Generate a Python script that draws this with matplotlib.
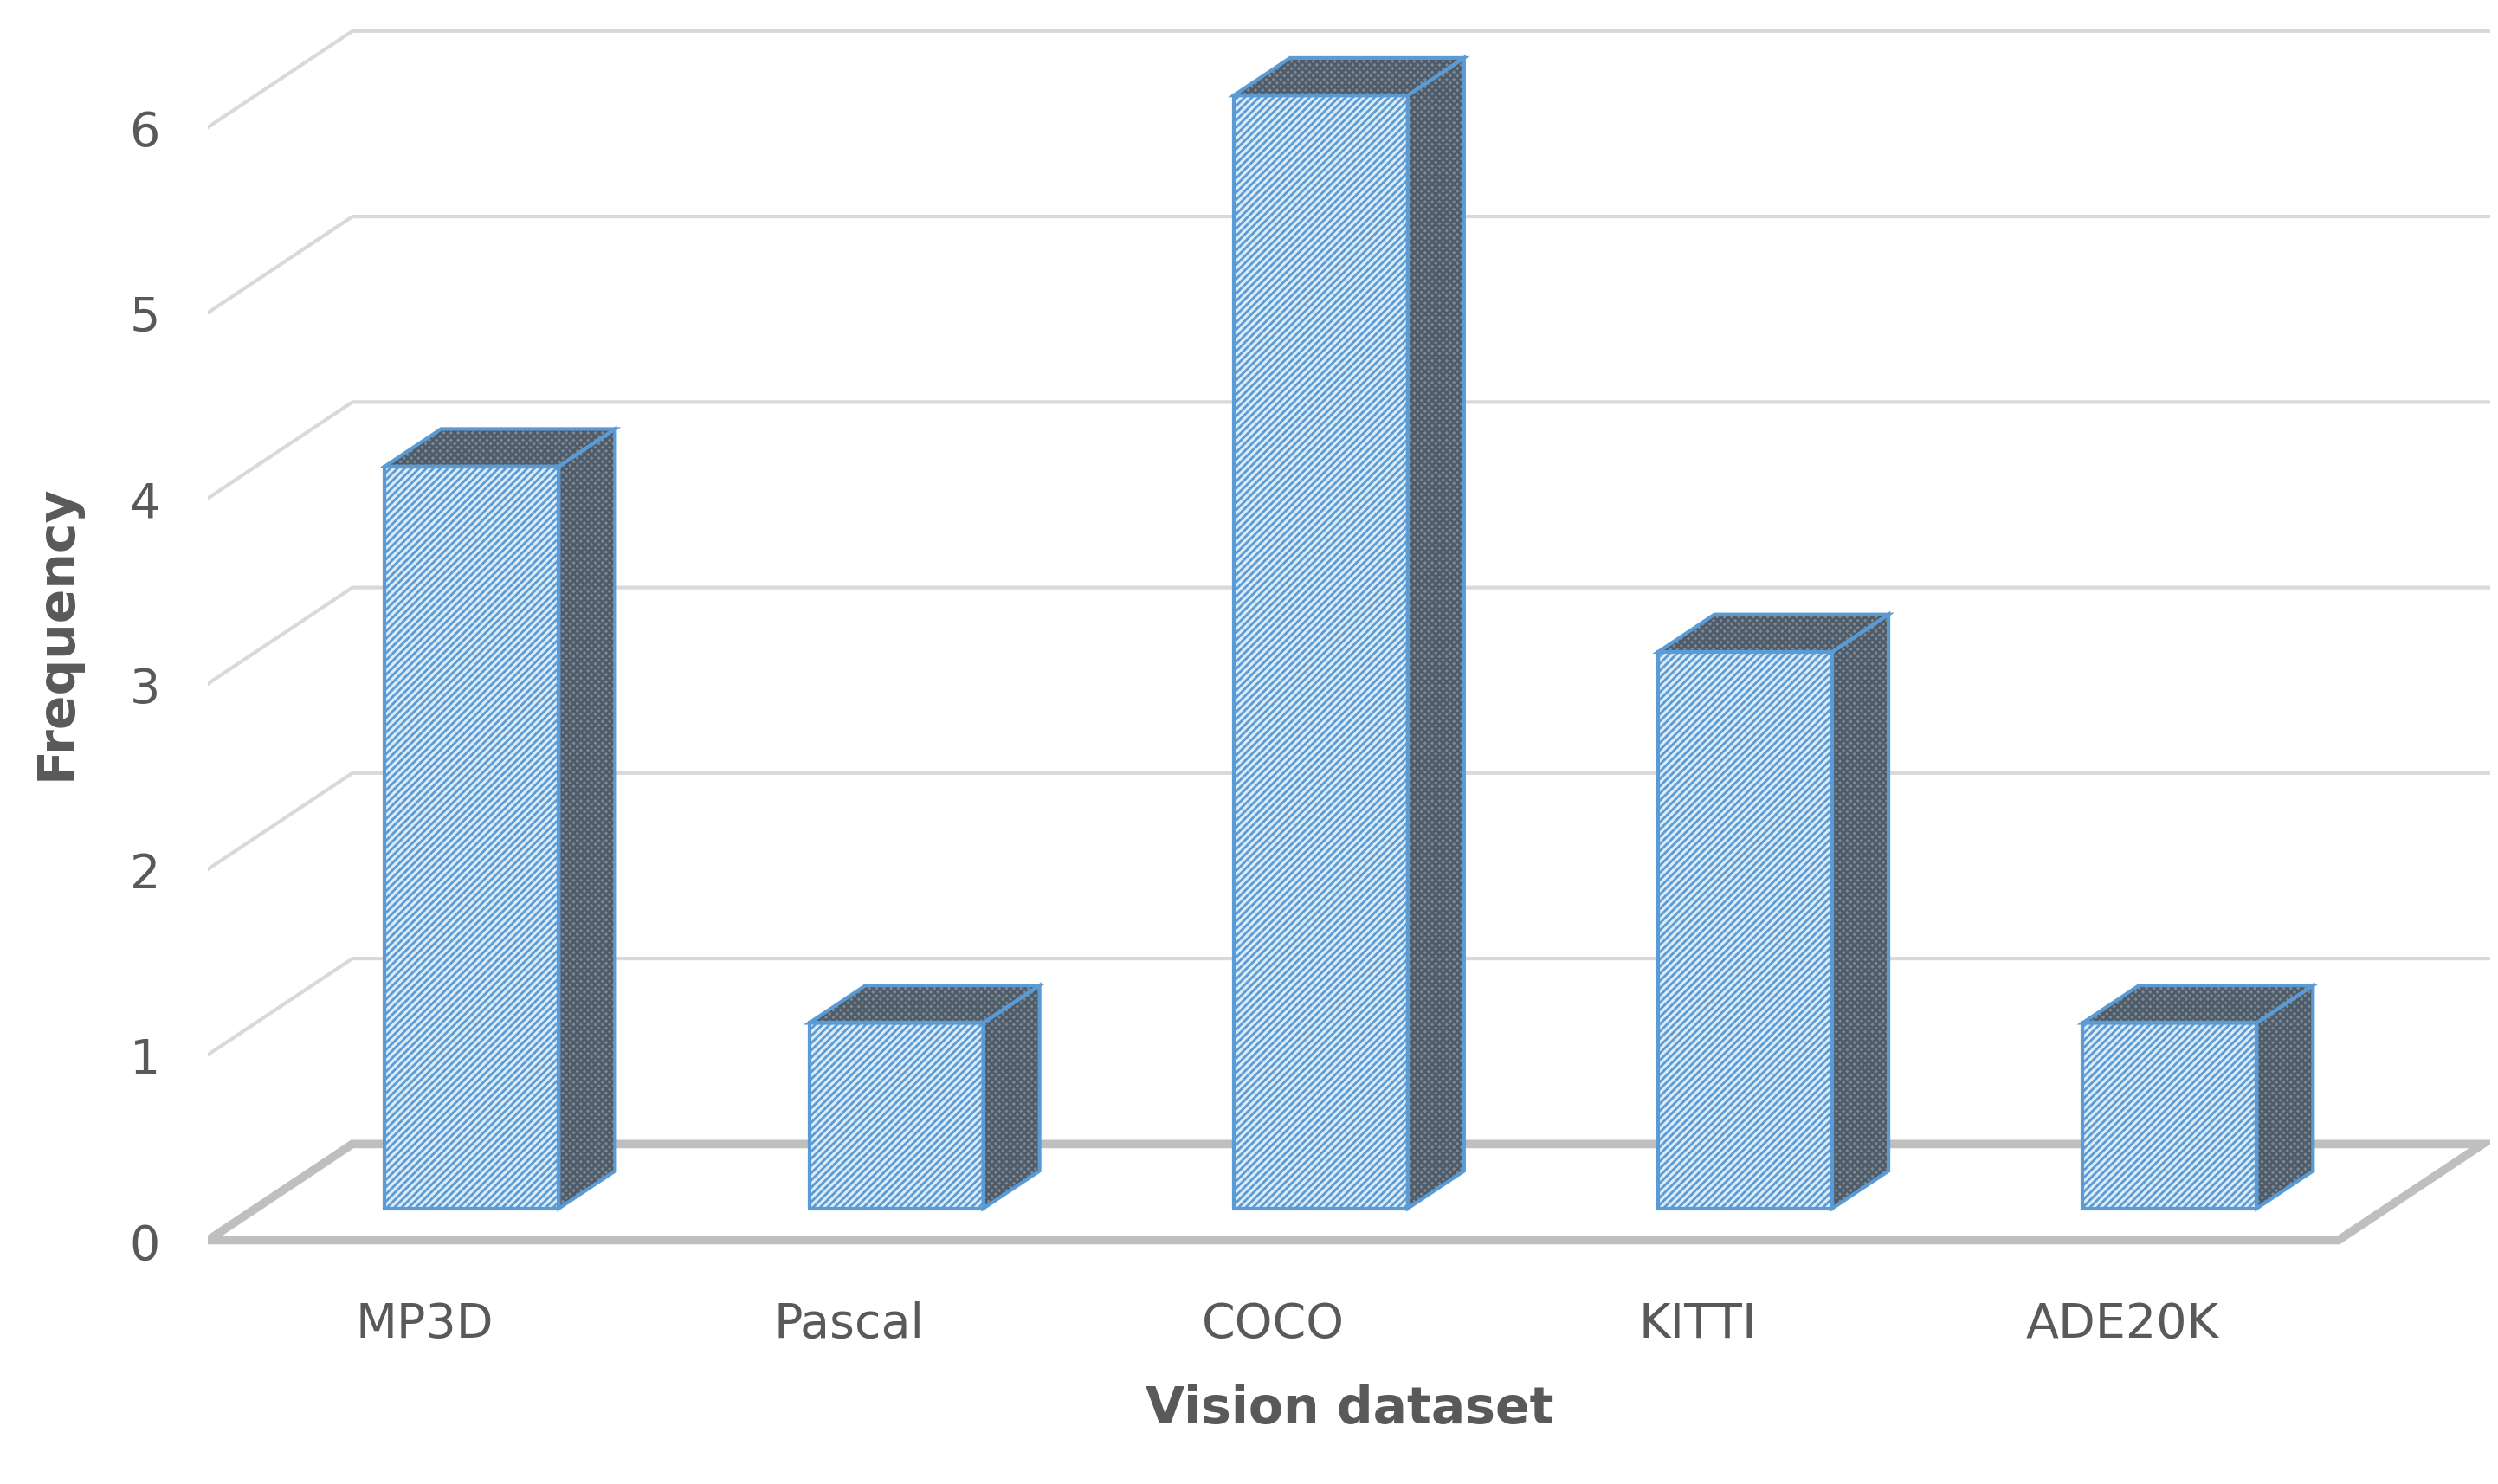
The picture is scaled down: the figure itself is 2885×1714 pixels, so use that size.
import matplotlib.pyplot as plt
from matplotlib.patches import Polygon

datasets = ["MP3D", "Pascal", "COCO", "KITTI", "ADE20K"]
frequency = [4, 1, 6, 3, 1]
yticks = [0, 1, 2, 3, 4, 5, 6]

plt.rcParams['hatch.linewidth'] = 2.0

fig = plt.figure(figsize=(28.85, 17.15), dpi=100)
ax = fig.add_axes([0.0833, 0.148, 0.9137, 0.852])
ax.set_xlim(-0.509, 4.868)
ax.set_ylim(-0.13, 6.69)

# depth offset of the whole floor (x in category units, y in value units)
DX, DY = 0.34, 0.518
x0, x1 = -0.509, 4.51

# gridlines on side wall and back wall
for v in yticks[1:]:
    ax.plot([x0, x0 + DX, 4.868], [v, v + DY, v + DY], color="#d9d9d9", lw=3, zorder=1)

# floor
floor = Polygon([(x0, 0), (x0 + DX, DY), (x1 + DX, DY), (x1, 0)], closed=True,
                facecolor="white", edgecolor="#bfbfbf", lw=7, zorder=2)
ax.add_patch(floor)

BW = 0.41
fd = 0.33   # front face depth fraction
bd = 0.39   # bar depth fraction
fx, fy = fd * DX, fd * DY
bx, by = bd * DX, bd * DY
blue = "#5b9bd5"

def face(pts, fc, hc, hatch):
    ax.add_patch(Polygon(pts, closed=True, facecolor=fc, edgecolor=hc, hatch=hatch, lw=0, zorder=3))
    ax.add_patch(Polygon(pts, closed=True, fill=False, edgecolor=blue, lw=3, zorder=4))

for i, val in enumerate(frequency):
    l = i + fx - BW / 2
    r = i + fx + BW / 2
    b = fy
    t = val + fy
    face([(r, b), (r + bx, b + by), (r + bx, t + by), (r, t)], "#7a8898", "#4f5b66", "xxxx")
    face([(l, t), (l + bx, t + by), (r + bx, t + by), (r, t)], "#7a8898", "#4f5b66", "xxxx")
    face([(l, b), (r, b), (r, t), (l, t)], "#ddebf7", blue, "////")

for s in ax.spines.values():
    s.set_visible(False)
ax.set_xticks(range(len(datasets)))
ax.set_xticklabels(datasets)
ax.set_yticks(yticks)
ax.tick_params(length=0, labelsize=40, labelcolor="#595959", pad=30)
ax.tick_params(axis="y", pad=40)
ax.set_xlabel("Vision dataset", fontsize=42, fontweight="bold", color="#595959", labelpad=30)
ax.set_ylabel("Frequency", fontsize=42, fontweight="bold", color="#595959", labelpad=40)

fig.savefig("out.png", dpi=100)
